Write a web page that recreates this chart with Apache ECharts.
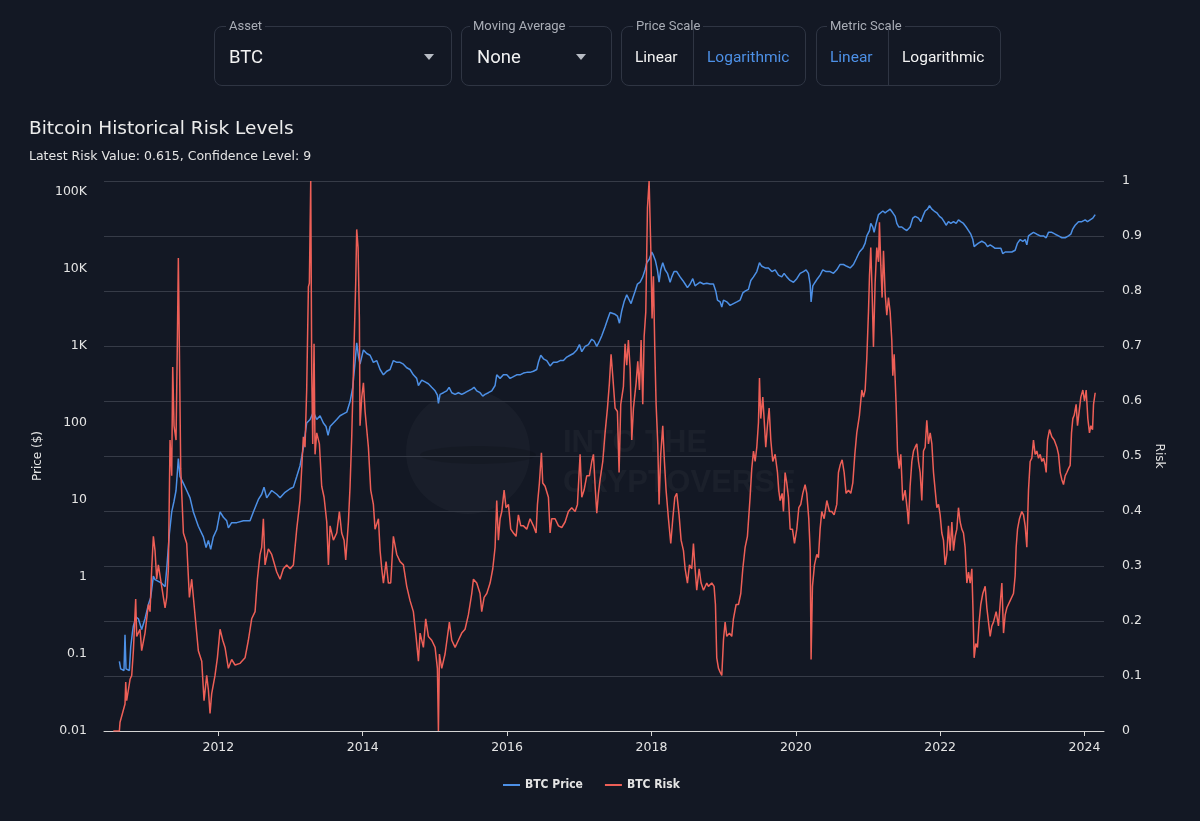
<!DOCTYPE html>
<html>
<head>
<meta charset="utf-8">
<script src="https://cdn.jsdelivr.net/npm/echarts@6/dist/echarts.min.js"></script>
<style>
html,body{margin:0;padding:0;background:#131824;width:1200px;height:821px;overflow:hidden;}
#chart{position:absolute;left:0;top:0;width:1200px;height:821px;}
#controls{position:absolute;left:0;top:0;width:1200px;height:100px;z-index:5;font-family:'Roboto','Inter',sans-serif;}
.box{position:absolute;top:26px;height:60px;box-sizing:border-box;border:1px solid #2f3543;border-radius:8px;}
.lbl{position:absolute;top:-10px;font-size:13px;line-height:17px;color:#a9adb6;background:#131824;padding:0 3px;white-space:nowrap;}
.val{position:absolute;top:19px;font-size:18.5px;line-height:22px;color:#f2f2f2;white-space:nowrap;}
.opt{position:absolute;top:20px;font-size:15.5px;line-height:20px;color:#f2f2f2;white-space:nowrap;}
.opt.on{color:#4d90e6;}
.tri{position:absolute;top:27px;width:0;height:0;border-left:5px solid transparent;border-right:5px solid transparent;border-top:6px solid #b8bcc4;}
.div{position:absolute;top:0;bottom:0;width:1px;background:#2f3543;}
</style>
</head>
<body>
<div id="chart"></div>
<div id="controls">
  <div class="box" style="left:214px;width:238px;">
    <span class="lbl" style="left:11px;">Asset</span>
    <span class="val" style="left:14px;">BTC</span>
    <span class="tri" style="left:209px;"></span>
  </div>
  <div class="box" style="left:461px;width:151px;">
    <span class="lbl" style="left:8px;">Moving Average</span>
    <span class="val" style="left:15px;">None</span>
    <span class="tri" style="left:114px;"></span>
  </div>
  <div class="box" style="left:621px;width:185px;">
    <span class="lbl" style="left:11px;">Price Scale</span>
    <span class="opt" style="left:13px;">Linear</span>
    <span class="div" style="left:71px;"></span>
    <span class="opt on" style="left:85px;">Logarithmic</span>
  </div>
  <div class="box" style="left:816px;width:185px;">
    <span class="lbl" style="left:10px;">Metric Scale</span>
    <span class="opt on" style="left:13px;">Linear</span>
    <span class="div" style="left:71px;"></span>
    <span class="opt" style="left:85px;">Logarithmic</span>
  </div>
</div>
<script>
// ---- data (year as decimal, value) ----
const yearTicks = [2012, 2014, 2016, 2018, 2020, 2022, 2024];
const priceTickLabels = {'-2':'0.01','-1':'0.1','0':'1','1':'10','2':'100','3':'1K','4':'10K','5':'100K'};

const btcPrice = [
[2010.629,0.080],[2010.647,0.064],[2010.693,0.061],[2010.707,0.177],[2010.721,0.064],[2010.767,0.061],
[2010.786,0.122],[2010.809,0.187],[2010.823,0.231],[2010.860,0.301],[2010.892,0.286],[2010.938,0.207],
[2010.984,0.286],[2011.031,0.437],[2011.063,0.541],[2011.100,1.02],[2011.123,0.92],[2011.169,0.873],
[2011.215,0.828],[2011.262,0.745],[2011.285,1.27],[2011.322,3.67],[2011.354,6.95],[2011.386,9.57],
[2011.414,13.2],[2011.446,34.3],[2011.469,20.1],[2011.516,16.3],[2011.562,13.2],[2011.608,10.6],
[2011.654,6.95],[2011.723,4.54],[2011.793,3.30],[2011.830,2.40],[2011.862,2.97],[2011.894,2.27],
[2011.931,3.30],[2011.977,4.08],[2012.024,6.95],[2012.070,5.93],[2012.116,5.33],[2012.139,4.31],
[2012.185,5.05],[2012.255,5.05],[2012.347,5.33],[2012.439,5.33],[2012.485,6.95],[2012.555,10.1],
[2012.601,11.8],[2012.633,14.6],[2012.670,10.6],[2012.739,13.2],[2012.809,11.8],[2012.855,10.6],
[2012.924,12.5],[2012.994,13.9],[2013.040,14.6],[2013.086,20.1],[2013.132,27.7],[2013.178,47.2],
[2013.224,99.3],[2013.271,110],[2013.317,137],[2013.363,110],[2013.409,123],[2013.455,99.3],
[2013.492,89.3],[2013.520,68.5],[2013.548,89.3],[2013.594,99.3],[2013.640,110],[2013.686,123],
[2013.733,130],[2013.779,137],[2013.825,188],[2013.862,288],[2013.894,607],[2013.917,1089],
[2013.940,750],[2013.963,575],[2014.010,880],[2014.056,791],[2014.102,750],[2014.148,607],
[2014.194,640],[2014.241,490],[2014.287,418],[2014.333,465],[2014.379,490],[2014.425,640],
[2014.472,607],[2014.518,607],[2014.564,575],[2014.610,517],[2014.656,490],[2014.702,418],
[2014.748,376],[2014.772,304],[2014.818,356],[2014.864,338],[2014.910,320],[2014.956,288],
[2015.003,259],[2015.035,228],[2015.049,178],[2015.072,233],[2015.118,245],[2015.164,259],
[2015.197,288],[2015.234,245],[2015.280,233],[2015.326,245],[2015.372,233],[2015.418,245],
[2015.464,259],[2015.511,273],[2015.543,288],[2015.580,259],[2015.626,245],[2015.663,221],
[2015.695,233],[2015.741,245],[2015.788,259],[2015.834,304],[2015.857,418],[2015.903,376],
[2015.949,418],[2015.996,418],[2016.042,376],[2016.088,396],[2016.134,418],[2016.180,418],
[2016.227,441],[2016.273,450],[2016.319,450],[2016.365,465],[2016.411,490],[2016.434,607],
[2016.467,750],[2016.504,675],[2016.550,640],[2016.596,545],[2016.642,607],[2016.688,607],
[2016.735,640],[2016.781,640],[2016.827,711],[2016.873,750],[2016.919,791],[2016.966,880],
[2017.003,1032],[2017.035,834],[2017.081,979],[2017.127,1032],[2017.173,1211],[2017.206,1148],
[2017.243,979],[2017.280,1148],[2017.312,1346],[2017.358,1758],[2017.391,2174],[2017.427,2690],
[2017.450,2838],[2017.497,2550],[2017.529,2419],[2017.557,1954],[2017.589,2838],[2017.621,3700],
[2017.658,4580],[2017.681,4120],[2017.718,3510],[2017.741,4120],[2017.774,5090],[2017.806,6300],
[2017.843,6650],[2017.880,7800],[2017.912,9640],[2017.935,11900],[2017.972,13300],[2018.005,16400],
[2018.028,14800],[2018.056,12600],[2018.083,9640],[2018.106,6650],[2018.129,9640],[2018.157,11900],
[2018.189,9640],[2018.222,8670],[2018.259,6650],[2018.282,7800],[2018.314,9140],[2018.351,9140],
[2018.397,7800],[2018.434,7010],[2018.467,6300],[2018.499,5660],[2018.536,6300],[2018.573,7390],
[2018.605,5970],[2018.637,6300],[2018.674,6650],[2018.721,6300],[2018.767,6440],[2018.813,6300],
[2018.859,6300],[2018.892,5090],[2018.915,3900],[2018.952,3700],[2018.975,3160],[2018.998,3900],
[2019.044,3700],[2019.090,3330],[2019.136,3510],[2019.183,3700],[2019.229,3900],[2019.266,4830],
[2019.298,5090],[2019.344,5370],[2019.377,7010],[2019.414,7800],[2019.460,9140],[2019.497,11900],
[2019.529,10700],[2019.575,10200],[2019.621,10200],[2019.668,9140],[2019.714,9640],[2019.760,8220],
[2019.806,7800],[2019.838,8670],[2019.875,7800],[2019.921,7010],[2019.968,6650],[2020.014,7390],
[2020.060,8670],[2020.106,9140],[2020.143,9640],[2020.175,8670],[2020.199,6300],[2020.212,3700],
[2020.236,5970],[2020.268,6650],[2020.300,7390],[2020.337,8220],[2020.374,9640],[2020.420,9140],
[2020.476,9140],[2020.522,8670],[2020.568,9640],[2020.614,11300],[2020.661,11300],[2020.707,10700],
[2020.753,10200],[2020.799,11300],[2020.836,13300],[2020.882,16400],[2020.928,18300],[2020.961,21400],
[2020.984,26500],[2021.021,31100],[2021.039,38500],[2021.067,34600],[2021.085,29500],[2021.113,38500],
[2021.146,50200],[2021.169,52900],[2021.206,55800],[2021.238,52900],[2021.270,55800],[2021.307,58900],
[2021.344,52900],[2021.377,47500],[2021.400,38500],[2021.427,34600],[2021.469,34600],[2021.501,32800],
[2021.538,31100],[2021.584,34600],[2021.621,45100],[2021.654,47500],[2021.700,45100],[2021.732,40600],
[2021.760,47500],[2021.792,55800],[2021.825,58900],[2021.852,65500],[2021.885,58900],[2021.917,55800],
[2021.954,52900],[2021.991,47500],[2022.023,45100],[2022.055,40600],[2022.083,36500],[2022.115,40600],
[2022.148,38500],[2022.185,40600],[2022.222,38500],[2022.254,42800],[2022.286,40600],[2022.323,38500],
[2022.360,34600],[2022.393,31100],[2022.425,27900],[2022.453,23800],[2022.471,19300],[2022.499,20300],
[2022.531,21400],[2022.577,22600],[2022.624,21400],[2022.656,19300],[2022.693,20300],[2022.730,19300],
[2022.762,18300],[2022.808,18300],[2022.841,18300],[2022.868,15600],[2022.901,16400],[2022.947,16400],
[2022.993,16400],[2023.039,17300],[2023.072,21400],[2023.109,23800],[2023.145,22600],[2023.178,23800],
[2023.201,20300],[2023.224,26500],[2023.256,27900],[2023.293,29500],[2023.339,27900],[2023.386,26500],
[2023.432,26500],[2023.469,25100],[2023.501,29500],[2023.547,29500],[2023.594,27900],[2023.640,26500],
[2023.686,25100],[2023.732,25100],[2023.778,26500],[2023.810,27900],[2023.838,32800],[2023.870,36500],
[2023.917,40600],[2023.963,40600],[2024.009,42800],[2024.041,40600],[2024.078,42800],[2024.115,45100],
[2024.148,50200]
];

const btcRisk = [
[2010.545,0],[2010.629,0],[2010.638,0.016],[2010.707,0.049],[2010.717,0.089],[2010.730,0.055],
[2010.777,0.094],[2010.800,0.101],[2010.823,0.146],[2010.855,0.240],[2010.869,0.172],[2010.915,0.185],
[2010.938,0.146],[2010.984,0.178],[2011.031,0.230],[2011.054,0.217],[2011.077,0.295],[2011.100,0.354],
[2011.123,0.328],[2011.146,0.276],[2011.169,0.302],[2011.215,0.263],[2011.262,0.224],[2011.285,0.243],
[2011.308,0.295],[2011.331,0.529],[2011.354,0.464],[2011.368,0.662],[2011.386,0.555],[2011.414,0.529],
[2011.432,0.704],[2011.446,0.860],[2011.460,0.698],[2011.479,0.477],[2011.516,0.360],[2011.562,0.341],
[2011.599,0.243],[2011.631,0.276],[2011.677,0.211],[2011.723,0.146],[2011.770,0.127],[2011.802,0.055],
[2011.839,0.101],[2011.862,0.075],[2011.885,0.032],[2011.908,0.068],[2011.954,0.101],[2011.987,0.133],
[2012.024,0.185],[2012.061,0.165],[2012.093,0.152],[2012.139,0.114],[2012.185,0.130],[2012.232,0.120],
[2012.301,0.123],[2012.370,0.133],[2012.416,0.165],[2012.462,0.204],[2012.509,0.217],[2012.541,0.276],
[2012.578,0.321],[2012.601,0.334],[2012.624,0.386],[2012.647,0.302],[2012.693,0.331],[2012.739,0.321],
[2012.809,0.289],[2012.855,0.276],[2012.901,0.295],[2012.947,0.302],[2012.994,0.295],[2013.040,0.302],
[2013.086,0.367],[2013.132,0.420],[2013.178,0.535],[2013.201,0.516],[2013.224,0.620],[2013.248,0.808],
[2013.261,0.814],[2013.280,1.000],[2013.294,0.652],[2013.308,0.522],[2013.326,0.704],[2013.340,0.503],
[2013.363,0.542],[2013.400,0.522],[2013.432,0.445],[2013.465,0.425],[2013.502,0.380],[2013.525,0.302],
[2013.548,0.373],[2013.594,0.347],[2013.640,0.360],[2013.677,0.399],[2013.709,0.360],[2013.742,0.347],
[2013.765,0.311],[2013.802,0.380],[2013.825,0.445],[2013.848,0.535],[2013.880,0.698],[2013.903,0.814],
[2013.917,0.912],[2013.936,0.879],[2013.954,0.750],[2013.963,0.555],[2013.987,0.607],[2014.010,0.633],
[2014.033,0.581],[2014.079,0.516],[2014.111,0.438],[2014.148,0.412],[2014.171,0.367],[2014.218,0.386],
[2014.241,0.328],[2014.264,0.295],[2014.287,0.269],[2014.324,0.308],[2014.356,0.269],[2014.388,0.269],
[2014.425,0.354],[2014.472,0.321],[2014.518,0.308],[2014.564,0.302],[2014.610,0.263],[2014.656,0.237],
[2014.702,0.217],[2014.739,0.172],[2014.772,0.127],[2014.795,0.178],[2014.841,0.152],[2014.873,0.204],
[2014.910,0.172],[2014.956,0.165],[2015.003,0.152],[2015.035,0.114],[2015.049,0.000],[2015.063,0.140],
[2015.095,0.114],[2015.141,0.140],[2015.201,0.198],[2015.234,0.165],[2015.280,0.152],[2015.326,0.165],
[2015.372,0.178],[2015.418,0.185],[2015.464,0.211],[2015.511,0.250],[2015.534,0.276],[2015.580,0.269],
[2015.626,0.250],[2015.649,0.217],[2015.682,0.243],[2015.719,0.250],[2015.765,0.269],[2015.802,0.295],
[2015.834,0.334],[2015.857,0.419],[2015.880,0.347],[2015.903,0.386],[2015.927,0.399],[2015.959,0.438],
[2015.986,0.406],[2016.019,0.412],[2016.051,0.367],[2016.088,0.360],[2016.125,0.354],[2016.157,0.393],
[2016.190,0.373],[2016.227,0.373],[2016.273,0.367],[2016.319,0.386],[2016.365,0.373],[2016.402,0.360],
[2016.421,0.412],[2016.448,0.451],[2016.476,0.506],[2016.494,0.451],[2016.527,0.445],[2016.573,0.425],
[2016.596,0.360],[2016.619,0.386],[2016.665,0.386],[2016.712,0.373],[2016.758,0.370],[2016.804,0.380],
[2016.850,0.399],[2016.896,0.406],[2016.943,0.399],[2016.975,0.412],[2017.012,0.503],[2017.035,0.425],
[2017.067,0.438],[2017.104,0.464],[2017.141,0.464],[2017.173,0.490],[2017.197,0.503],[2017.220,0.445],
[2017.243,0.396],[2017.266,0.432],[2017.289,0.457],[2017.326,0.490],[2017.358,0.542],[2017.391,0.587],
[2017.418,0.633],[2017.441,0.685],[2017.464,0.646],[2017.497,0.587],[2017.529,0.581],[2017.552,0.470],
[2017.575,0.594],[2017.612,0.626],[2017.635,0.704],[2017.658,0.665],[2017.681,0.711],[2017.705,0.659],
[2017.728,0.529],[2017.751,0.587],[2017.788,0.633],[2017.811,0.672],[2017.834,0.620],[2017.857,0.711],
[2017.880,0.594],[2017.899,0.717],[2017.922,0.762],[2017.945,0.951],[2017.968,1.000],[2017.991,0.879],
[2018.009,0.750],[2018.028,0.827],[2018.046,0.698],[2018.065,0.594],[2018.088,0.522],[2018.106,0.412],
[2018.129,0.503],[2018.157,0.555],[2018.180,0.490],[2018.203,0.438],[2018.236,0.386],[2018.268,0.341],
[2018.296,0.386],[2018.324,0.425],[2018.351,0.432],[2018.383,0.393],[2018.411,0.347],[2018.444,0.328],
[2018.467,0.295],[2018.499,0.269],[2018.527,0.302],[2018.559,0.295],[2018.582,0.341],[2018.605,0.295],
[2018.628,0.256],[2018.661,0.295],[2018.688,0.269],[2018.721,0.256],[2018.767,0.269],[2018.790,0.263],
[2018.836,0.269],[2018.868,0.263],[2018.887,0.230],[2018.905,0.133],[2018.929,0.114],[2018.952,0.107],
[2018.975,0.101],[2018.998,0.165],[2019.021,0.198],[2019.044,0.172],[2019.081,0.178],[2019.113,0.172],
[2019.136,0.204],[2019.173,0.230],[2019.206,0.230],[2019.238,0.250],[2019.266,0.295],[2019.298,0.334],
[2019.330,0.354],[2019.367,0.425],[2019.390,0.477],[2019.414,0.509],[2019.437,0.490],[2019.460,0.516],
[2019.483,0.561],[2019.497,0.642],[2019.515,0.568],[2019.543,0.607],[2019.561,0.568],[2019.584,0.516],
[2019.607,0.555],[2019.631,0.587],[2019.654,0.529],[2019.681,0.490],[2019.714,0.503],[2019.746,0.470],
[2019.764,0.438],[2019.783,0.419],[2019.811,0.432],[2019.829,0.399],[2019.852,0.470],[2019.875,0.451],
[2019.898,0.425],[2019.922,0.367],[2019.954,0.367],[2019.982,0.341],[2020.014,0.367],[2020.042,0.406],
[2020.069,0.412],[2020.097,0.432],[2020.129,0.448],[2020.152,0.432],[2020.180,0.386],[2020.199,0.328],
[2020.212,0.130],[2020.231,0.263],[2020.259,0.302],[2020.291,0.321],[2020.314,0.315],[2020.337,0.367],
[2020.360,0.399],[2020.393,0.386],[2020.430,0.419],[2020.467,0.399],[2020.499,0.399],[2020.531,0.393],
[2020.568,0.412],[2020.591,0.470],[2020.614,0.483],[2020.642,0.493],[2020.670,0.470],[2020.697,0.432],
[2020.730,0.438],[2020.762,0.432],[2020.790,0.451],[2020.818,0.503],[2020.845,0.542],[2020.882,0.574],
[2020.915,0.620],[2020.938,0.607],[2020.961,0.620],[2020.984,0.678],[2021.007,0.762],[2021.021,0.827],
[2021.039,0.879],[2021.058,0.795],[2021.076,0.698],[2021.099,0.814],[2021.122,0.879],[2021.146,0.853],
[2021.159,0.925],[2021.178,0.847],[2021.196,0.788],[2021.215,0.873],[2021.238,0.795],[2021.261,0.756],
[2021.284,0.788],[2021.307,0.762],[2021.330,0.711],[2021.344,0.646],[2021.363,0.685],[2021.390,0.594],
[2021.409,0.509],[2021.432,0.477],[2021.455,0.503],[2021.482,0.419],[2021.515,0.438],[2021.547,0.399],
[2021.561,0.376],[2021.584,0.445],[2021.608,0.490],[2021.631,0.509],[2021.654,0.516],[2021.677,0.522],
[2021.700,0.490],[2021.723,0.470],[2021.746,0.419],[2021.769,0.509],[2021.792,0.516],[2021.815,0.565],
[2021.838,0.522],[2021.862,0.542],[2021.885,0.522],[2021.908,0.470],[2021.931,0.438],[2021.954,0.406],
[2021.977,0.412],[2022.000,0.393],[2022.023,0.360],[2022.046,0.347],[2022.069,0.302],[2022.092,0.321],
[2022.115,0.373],[2022.139,0.328],[2022.162,0.380],[2022.185,0.328],[2022.208,0.354],[2022.231,0.367],
[2022.254,0.406],[2022.277,0.380],[2022.300,0.367],[2022.323,0.360],[2022.346,0.334],[2022.370,0.269],
[2022.393,0.289],[2022.416,0.269],[2022.439,0.295],[2022.453,0.230],[2022.471,0.133],[2022.494,0.159],
[2022.517,0.152],[2022.540,0.198],[2022.563,0.230],[2022.591,0.250],[2022.624,0.263],[2022.647,0.224],
[2022.670,0.198],[2022.693,0.172],[2022.716,0.191],[2022.739,0.198],[2022.776,0.217],[2022.808,0.191],
[2022.831,0.230],[2022.855,0.269],[2022.878,0.178],[2022.901,0.211],[2022.924,0.224],[2022.970,0.237],
[2023.016,0.250],[2023.039,0.282],[2023.053,0.334],[2023.072,0.367],[2023.099,0.386],[2023.131,0.399],
[2023.155,0.393],[2023.178,0.373],[2023.201,0.334],[2023.224,0.438],[2023.247,0.490],[2023.270,0.496],
[2023.293,0.529],[2023.316,0.503],[2023.339,0.509],[2023.363,0.496],[2023.386,0.503],[2023.409,0.490],
[2023.432,0.496],[2023.455,0.483],[2023.469,0.470],[2023.487,0.529],[2023.515,0.548],[2023.547,0.535],
[2023.580,0.529],[2023.617,0.516],[2023.640,0.503],[2023.663,0.470],[2023.686,0.457],[2023.709,0.448],
[2023.732,0.464],[2023.755,0.470],[2023.778,0.477],[2023.801,0.483],[2023.820,0.542],[2023.838,0.568],
[2023.857,0.574],[2023.884,0.594],[2023.903,0.555],[2023.926,0.581],[2023.949,0.607],[2023.977,0.620],
[2024.000,0.600],[2024.023,0.620],[2024.046,0.568],[2024.069,0.542],[2024.088,0.555],[2024.111,0.548],
[2024.125,0.594],[2024.148,0.615]
];

const BG = '#131824';
const TXT = '#e4e4e4';

const chart = echarts.init(document.getElementById('chart'), null, {renderer: 'canvas'});
chart.setOption({
  backgroundColor: BG,
  animation: false,
  textStyle: {fontFamily: 'DejaVu Sans'},
  title: [
    {text: 'Bitcoin Historical Risk Levels', left: 24, top: 115,
     textStyle: {color: '#ececec', fontSize: 18.5, fontWeight: 'normal', fontFamily: 'DejaVu Sans'}},
    {text: 'Latest Risk Value: 0.615, Confidence Level: 9', left: 24, top: 145,
     textStyle: {color: TXT, fontSize: 12.5, fontWeight: 'normal', fontFamily: 'DejaVu Sans'}}
  ],
  graphic: [
    {type: 'circle', shape: {cx: 468, cy: 452, r: 62}, style: {fill: 'rgba(255,255,255,0.028)'}, z: -1, silent: true},
    {type: 'ellipse', shape: {cx: 478, cy: 455, rx: 58, ry: 9}, style: {fill: 'rgba(0,0,0,0.12)'}, z: -1, silent: true},
    {type: 'text', left: 563, top: 428, z: -1, silent: true,
     style: {text: 'INTO THE', fill: 'rgba(255,255,255,0.035)', font: 'bold 31px "Liberation Sans"'}},
    {type: 'text', left: 563, top: 468, z: -1, silent: true,
     style: {text: 'CRYPTOVERSE', fill: 'rgba(255,255,255,0.035)', font: 'bold 31px "Liberation Sans"'}}
  ],
  legend: {
    data: ['BTC Price', 'BTC Risk'], left: 498, top: 774, icon: 'rect', itemWidth: 17, itemHeight: 2,
    itemGap: 22, textStyle: {color: TXT, fontSize: 12, fontWeight: 'bold', fontFamily: 'DejaVu Sans Condensed'}
  },
  grid: {left: 104, right: 96, top: 181, bottom: 90},
  xAxis: {
    type: 'value', min: 2010.416, max: 2024.27,
    splitLine: {show: false},
    axisLine: {lineStyle: {color: '#d4d4d4', width: 1}},
    axisTick: {customValues: yearTicks, length: 5, lineStyle: {color: '#d4d4d4'}},
    axisLabel: {customValues: yearTicks, color: TXT, fontSize: 12.5, margin: 10,
      formatter: v => String(Math.round(v))}
  },
  yAxis: [
    {
      type: 'log', logBase: 10, min: 0.01, max: 136800, splitNumber: 7, position: 'left',
      name: 'Price ($)', nameLocation: 'middle', nameGap: 58,
      nameTextStyle: {color: TXT, fontSize: 12},
      axisLine: {show: false}, axisTick: {show: false}, splitLine: {show: false},
      axisLabel: {color: TXT, fontSize: 12.5, margin: 17, showMaxLabel: false,
        formatter: v => {
          const l = Math.log10(v), r = Math.round(l);
          return Math.abs(l - r) < 1e-6 && priceTickLabels[String(r)] ? priceTickLabels[String(r)] : '';
        }}
    },
    {
      type: 'value', min: 0, max: 1, interval: 0.1, position: 'right',
      name: 'Risk', nameLocation: 'middle', nameRotate: -90, nameGap: 47,
      nameTextStyle: {color: TXT, fontSize: 12},
      axisLine: {show: false}, axisTick: {show: false},
      splitLine: {lineStyle: {color: '#363b47', width: 1}},
      axisLabel: {color: TXT, fontSize: 12.5, margin: 18,
        formatter: v => String(Math.round(v * 10) / 10)}
    }
  ],
  series: [
    {name: 'BTC Price', type: 'line', yAxisIndex: 0, data: btcPrice, showSymbol: false, symbol: 'none',
     lineStyle: {color: '#4d90e6', width: 1.5}, itemStyle: {color: '#4d90e6'}},
    {name: 'BTC Risk', type: 'line', yAxisIndex: 1, data: btcRisk, showSymbol: false, symbol: 'none',
     lineStyle: {color: '#ee5f57', width: 1.5}, itemStyle: {color: '#ee5f57'}}
  ]
});
</script>
</body>
</html>
